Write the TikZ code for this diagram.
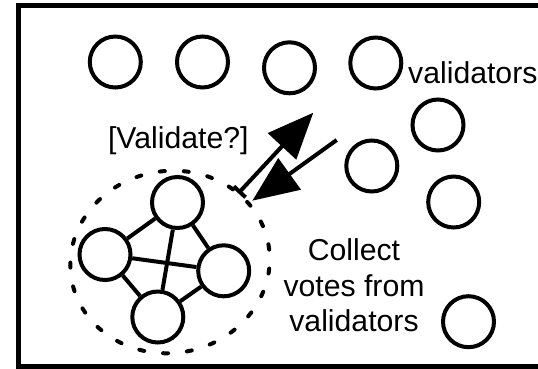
\documentclass[tikz,border=0pt]{standalone}
\usepackage{fontspec}
\setmainfont{Liberation Sans}
\usetikzlibrary{arrows.meta}

\tikzset{
  peer/.style={circle, draw, line width=4pt, minimum size=51pt, inner sep=0pt},
  link/.style={line width=4pt},
  msg/.style={line width=4pt, -{Triangle[length=46pt, width=38pt]}},
  label/.style={font=\fontsize{30.2}{35.5}\selectfont, inner sep=0pt},
}

\begin{document}
\begin{tikzpicture}[x=1pt, y=-1pt]
  \useasboundingbox (0,0) rectangle (538,368);

  % outer frame (runs off the right edge)
  \draw[line width=5pt] (560,5.5) -- (18.5,5.5) -- (18.5,366.5) -- (560,366.5);

  % scattered validators
  \node[peer] (v1) at (115.3,62) {};
  \node[peer] (v2) at (202.5,62) {};
  \node[peer] (v3) at (289.5,67.8) {};
  \node[peer] (v4) at (375.8,63) {};
  \node[peer] (v5) at (438,125) {};
  \node[peer] (v6) at (371.8,166) {};
  \node[peer] (v7) at (453.7,202) {};
  \node[peer] (v8) at (468.5,321.7) {};

  \node[label, anchor=base west] (vlab) at (408,83.3) {validators};

  % committee: fully connected group of four
  \node[peer] (c1) at (177.5,202.5) {};
  \node[peer] (c2) at (105,254.5) {};
  \node[peer] (c3) at (223.7,270.8) {};
  \node[peer] (c4) at (157.8,317) {};
  \foreach \a/\b in {c1/c2, c1/c3, c1/c4, c2/c3, c2/c4, c3/c4}
    \draw[link] (\a) -- (\b);

  % committee boundary
  \draw[line width=4pt, line cap=round, dash pattern=on 5pt off 19pt,
        rotate around={10:(170,262)}] (170,262) ellipse [x radius=100, y radius=91];

  \node[label, anchor=base] (ask) at (178.3,148) {[Validate?]};

  % request out, votes back
  \coordinate (qs) at (238.3,193.3);
  \coordinate (qe) at (313.3,112.7);
  \coordinate (rs) at (336.7,140);
  \coordinate (re) at (252.3,200.7);
  \draw[msg, {Bar[width=16pt]}-{Triangle[length=46pt, width=38pt]}] (qs) -- (qe);
  \draw[msg] (rs) -- (re);

  % multi-line label: base anchor sits on the last line
  \node[label, align=center, anchor=base] (collect) at (354,331.7)
    {Collect\\votes from\\validators};
\end{tikzpicture}
\end{document}
